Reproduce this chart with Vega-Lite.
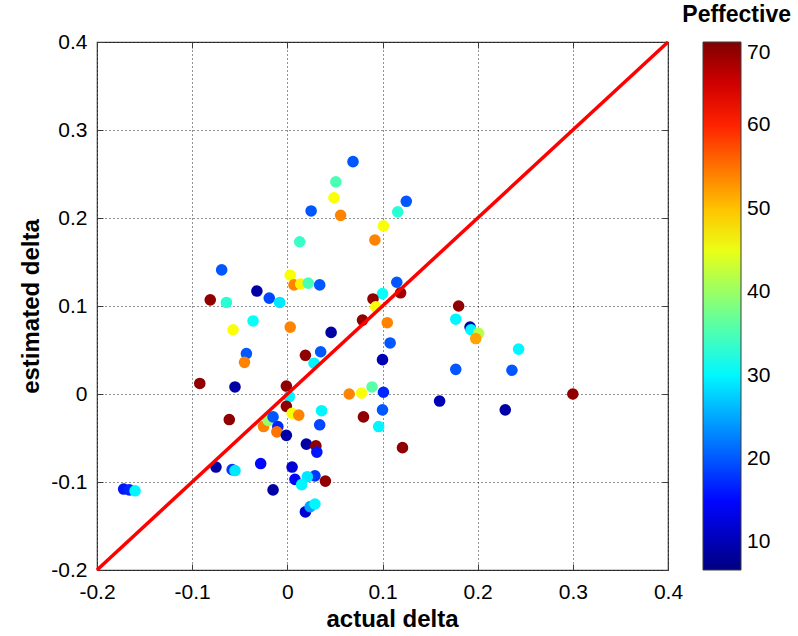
{
  "$schema": "https://vega.github.io/schema/vega-lite/v6.json",
  "width": 571,
  "height": 528,
  "autosize": "none",
  "padding": {"left": 97, "top": 42, "right": 130, "bottom": 66},
  "background": "white",
  "title": {
    "text": "Peffective",
    "anchor": "end",
    "frame": "group",
    "dx": 123,
    "offset": 4,
    "fontSize": 23,
    "fontWeight": "bold",
    "font": "Liberation Sans",
    "color": "black"
  },
  "config": {
    "font": "Liberation Sans",
    "view": {"stroke": "#3c3c3c", "strokeWidth": 1.2}
  },
  "resolve": {"axis": {"x": "independent", "y": "independent"}},
  "layer": [
    {
      "data": {
        "values": [
          {"actual": 0.069, "estimated": 0.264, "Peffective": 20},
          {"actual": 0.051, "estimated": 0.241, "Peffective": 35},
          {"actual": 0.049, "estimated": 0.223, "Peffective": 46},
          {"actual": 0.025, "estimated": 0.208, "Peffective": 20},
          {"actual": 0.056, "estimated": 0.203, "Peffective": 54},
          {"actual": 0.125, "estimated": 0.219, "Peffective": 20},
          {"actual": 0.116, "estimated": 0.207, "Peffective": 33},
          {"actual": 0.101, "estimated": 0.191, "Peffective": 46},
          {"actual": 0.092, "estimated": 0.175, "Peffective": 54},
          {"actual": 0.013, "estimated": 0.173, "Peffective": 34},
          {"actual": -0.069, "estimated": 0.141, "Peffective": 20},
          {"actual": -0.081, "estimated": 0.107, "Peffective": 69},
          {"actual": -0.064, "estimated": 0.104, "Peffective": 33},
          {"actual": -0.032, "estimated": 0.117, "Peffective": 9},
          {"actual": -0.019, "estimated": 0.109, "Peffective": 19},
          {"actual": -0.008, "estimated": 0.104, "Peffective": 29},
          {"actual": -0.036, "estimated": 0.083, "Peffective": 31},
          {"actual": -0.057, "estimated": 0.073, "Peffective": 46},
          {"actual": 0.003, "estimated": 0.135, "Peffective": 46},
          {"actual": 0.007, "estimated": 0.124, "Peffective": 54},
          {"actual": 0.014, "estimated": 0.125, "Peffective": 47},
          {"actual": 0.022, "estimated": 0.126, "Peffective": 35},
          {"actual": 0.034, "estimated": 0.124, "Peffective": 20},
          {"actual": 0.115, "estimated": 0.127, "Peffective": 20},
          {"actual": 0.100, "estimated": 0.114, "Peffective": 31},
          {"actual": 0.090, "estimated": 0.108, "Peffective": 69},
          {"actual": 0.119, "estimated": 0.115, "Peffective": 68},
          {"actual": 0.093, "estimated": 0.099, "Peffective": 46},
          {"actual": 0.079, "estimated": 0.084, "Peffective": 69},
          {"actual": 0.105, "estimated": 0.081, "Peffective": 54},
          {"actual": 0.003, "estimated": 0.076, "Peffective": 54},
          {"actual": 0.046, "estimated": 0.070, "Peffective": 9},
          {"actual": 0.108, "estimated": 0.058, "Peffective": 20},
          {"actual": 0.180, "estimated": 0.100, "Peffective": 69},
          {"actual": 0.177, "estimated": 0.085, "Peffective": 30},
          {"actual": 0.192, "estimated": 0.076, "Peffective": 9},
          {"actual": 0.193, "estimated": 0.073, "Peffective": 30},
          {"actual": 0.201, "estimated": 0.069, "Peffective": 42},
          {"actual": 0.198, "estimated": 0.063, "Peffective": 52},
          {"actual": 0.243, "estimated": 0.051, "Peffective": 30},
          {"actual": 0.177, "estimated": 0.028, "Peffective": 20},
          {"actual": 0.236, "estimated": 0.027, "Peffective": 20},
          {"actual": 0.160, "estimated": -0.008, "Peffective": 10},
          {"actual": 0.229, "estimated": -0.018, "Peffective": 9},
          {"actual": 0.300, "estimated": 0.000, "Peffective": 69},
          {"actual": 0.121, "estimated": -0.061, "Peffective": 69},
          {"actual": 0.019, "estimated": 0.044, "Peffective": 69},
          {"actual": 0.035, "estimated": 0.048, "Peffective": 20},
          {"actual": 0.028, "estimated": 0.035, "Peffective": 30},
          {"actual": 0.100, "estimated": 0.039, "Peffective": 10},
          {"actual": -0.001, "estimated": 0.009, "Peffective": 69},
          {"actual": 0.065, "estimated": 0.000, "Peffective": 54},
          {"actual": 0.078, "estimated": 0.001, "Peffective": 46},
          {"actual": 0.089, "estimated": 0.008, "Peffective": 36},
          {"actual": 0.101, "estimated": 0.002, "Peffective": 17},
          {"actual": 0.002, "estimated": -0.003, "Peffective": 30},
          {"actual": -0.001, "estimated": -0.014, "Peffective": 69},
          {"actual": 0.036, "estimated": -0.019, "Peffective": 30},
          {"actual": 0.100, "estimated": -0.018, "Peffective": 20},
          {"actual": 0.080, "estimated": -0.026, "Peffective": 69},
          {"actual": 0.005, "estimated": -0.022, "Peffective": 46},
          {"actual": 0.012, "estimated": -0.024, "Peffective": 54},
          {"actual": 0.096, "estimated": -0.037, "Peffective": 30},
          {"actual": 0.034, "estimated": -0.035, "Peffective": 19},
          {"actual": -0.025, "estimated": -0.037, "Peffective": 54},
          {"actual": -0.020, "estimated": -0.030, "Peffective": 40},
          {"actual": -0.015, "estimated": -0.026, "Peffective": 20},
          {"actual": -0.010, "estimated": -0.037, "Peffective": 17},
          {"actual": -0.011, "estimated": -0.043, "Peffective": 55},
          {"actual": -0.001, "estimated": -0.047, "Peffective": 9},
          {"actual": 0.020, "estimated": -0.057, "Peffective": 9},
          {"actual": 0.030, "estimated": -0.059, "Peffective": 69},
          {"actual": 0.031, "estimated": -0.066, "Peffective": 16},
          {"actual": -0.028, "estimated": -0.079, "Peffective": 15},
          {"actual": 0.005, "estimated": -0.083, "Peffective": 12},
          {"actual": 0.008, "estimated": -0.097, "Peffective": 15},
          {"actual": 0.029, "estimated": -0.093, "Peffective": 18},
          {"actual": 0.021, "estimated": -0.094, "Peffective": 29},
          {"actual": 0.015, "estimated": -0.103, "Peffective": 30},
          {"actual": 0.040, "estimated": -0.099, "Peffective": 69},
          {"actual": -0.015, "estimated": -0.109, "Peffective": 9},
          {"actual": 0.019, "estimated": -0.134, "Peffective": 12},
          {"actual": 0.024, "estimated": -0.128, "Peffective": 25},
          {"actual": 0.029, "estimated": -0.125, "Peffective": 30},
          {"actual": -0.092, "estimated": 0.012, "Peffective": 69},
          {"actual": -0.055, "estimated": 0.008, "Peffective": 9},
          {"actual": -0.043, "estimated": 0.046, "Peffective": 20},
          {"actual": -0.045, "estimated": 0.036, "Peffective": 54},
          {"actual": -0.061, "estimated": -0.029, "Peffective": 69},
          {"actual": -0.075, "estimated": -0.083, "Peffective": 9},
          {"actual": -0.058, "estimated": -0.086, "Peffective": 18},
          {"actual": -0.055, "estimated": -0.087, "Peffective": 29},
          {"actual": -0.172, "estimated": -0.108, "Peffective": 16},
          {"actual": -0.166, "estimated": -0.109, "Peffective": 17},
          {"actual": -0.160, "estimated": -0.110, "Peffective": 30}
        ]
      },
      "mark": {"type": "circle", "size": 135, "opacity": 1},
      "encoding": {
        "x": {
          "field": "actual",
          "type": "quantitative",
          "scale": {"domain": [-0.2, 0.4], "nice": false, "zero": false},
          "axis": {
            "orient": "bottom",
            "title": "actual delta",
            "titleX": 295,
            "values": [-0.2, -0.1, 0, 0.1, 0.2, 0.3, 0.4],
            "format": "~g",
            "labelExpr": "replace(datum.label, '\u2212', '-')",
            "labelFontSize": 21,
            "labelColor": "black",
            "labelFlush": false,
            "labelOverlap": false,
            "labelPadding": 17,
            "titleFontSize": 24,
            "titleFontWeight": "bold",
            "titleColor": "black",
            "titlePadding": 5,
            "domain": false,
            "grid": true,
            "gridColor": "black",
            "gridDash": [1, 3],
            "gridOpacity": 0.85,
            "tickColor": "#3c3c3c",
            "tickSize": -6
          }
        },
        "y": {
          "field": "estimated",
          "type": "quantitative",
          "scale": {"domain": [-0.2, 0.4], "nice": false, "zero": false},
          "axis": {
            "orient": "left",
            "title": "estimated delta",
            "values": [-0.2, -0.1, 0, 0.1, 0.2, 0.3, 0.4],
            "format": "~g",
            "labelExpr": "replace(datum.label, '\u2212', '-')",
            "labelFontSize": 21,
            "labelColor": "black",
            "labelFlush": false,
            "labelOverlap": false,
            "labelPadding": 16,
            "titleFontSize": 24,
            "titleFontWeight": "bold",
            "titleColor": "black",
            "titlePadding": 7,
            "domain": false,
            "grid": true,
            "gridColor": "black",
            "gridDash": [1, 3],
            "gridOpacity": 0.85,
            "tickColor": "#3c3c3c",
            "tickSize": -6
          }
        },
        "color": {
          "field": "Peffective",
          "type": "quantitative",
          "scale": {
            "domain": [6.7, 14.6, 30.5, 46.3, 62.1, 70],
            "range": ["#000080", "#0000ff", "#00ffff", "#ffff00", "#ff0000", "#800000"],
            "interpolate": "rgb",
            "nice": false,
            "zero": false
          },
          "legend": {
            "title": null,
            "orient": "none",
            "legendX": 606,
            "legendY": 0,
            "padding": 0,
            "direction": "vertical",
            "gradientLength": 528,
            "gradientThickness": 38,
            "gradientStrokeColor": "#3c3c3c",
            "gradientStrokeWidth": 1,
            "values": [10, 20, 30, 40, 50, 60, 70],
            "labelFontSize": 21,
            "labelColor": "black",
            "labelBaseline": "middle",
            "labelOffset": 6,
            "labelOverlap": false
          }
        }
      }
    },
    {
      "data": {
        "values": [
          {"actual": -0.2, "estimated": -0.2},
          {"actual": 0.4, "estimated": 0.4}
        ]
      },
      "mark": {"type": "line", "color": "#ff0000", "strokeWidth": 3.5},
      "encoding": {
        "x": {
          "field": "actual",
          "type": "quantitative",
          "axis": {
            "orient": "top",
            "title": null,
            "labels": false,
            "grid": false,
            "domain": false,
            "values": [-0.2, -0.1, 0, 0.1, 0.2, 0.3, 0.4],
            "tickColor": "#3c3c3c",
            "tickSize": -6
          }
        },
        "y": {
          "field": "estimated",
          "type": "quantitative",
          "axis": {
            "orient": "right",
            "title": null,
            "labels": false,
            "grid": false,
            "domain": false,
            "values": [-0.2, -0.1, 0, 0.1, 0.2, 0.3, 0.4],
            "tickColor": "#3c3c3c",
            "tickSize": -6
          }
        }
      }
    }
  ]
}
